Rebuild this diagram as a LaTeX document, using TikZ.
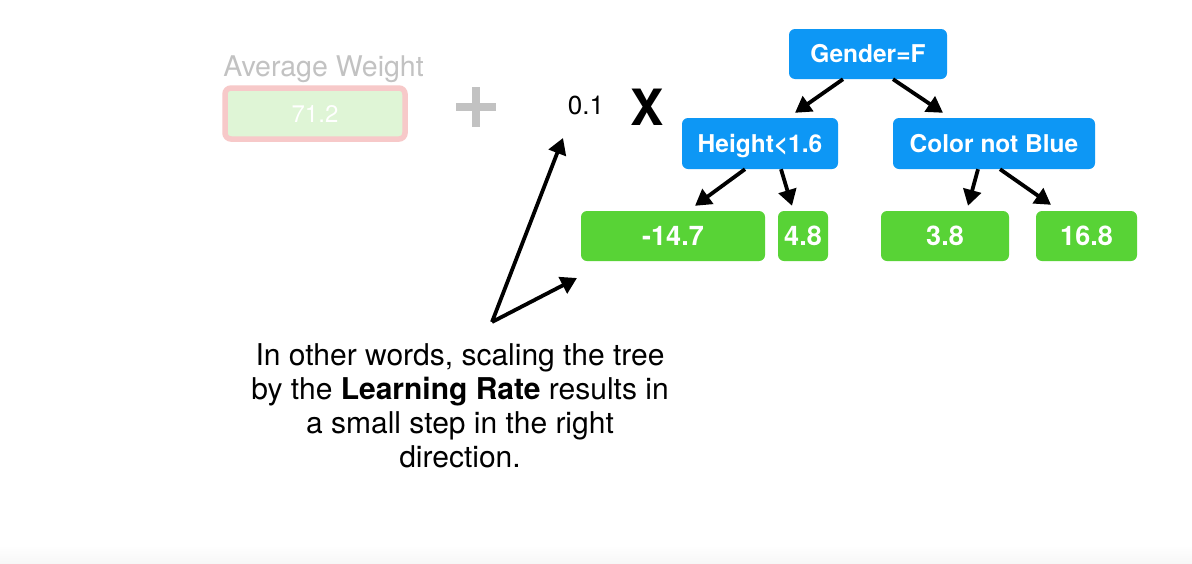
\documentclass[tikz,border=0pt]{standalone}
\usepackage{fontspec}
\setmainfont{TeX Gyre Heros}
\usetikzlibrary{arrows.meta}
\definecolor{tblue}{HTML}{0D97F5}
\definecolor{tgreen}{HTML}{58D336}
\definecolor{fadegray}{HTML}{C2C2C2}
\definecolor{fadegreen}{HTML}{DFF5D6}
\definecolor{fadepink}{HTML}{F7C9C9}
\begin{document}
\begin{tikzpicture}[x=1pt,y=-1pt,
  box/.style={rounded corners=6pt, text=white, inner sep=0pt, text depth=0pt},
  splitnode/.style={box, fill=tblue, minimum height=51pt, text height=17.6pt, font=\fontsize{24.5}{28}\selectfont\bfseries},
  leafnode/.style={box, fill=tgreen, minimum height=50pt, text height=19.5pt, font=\fontsize{27}{31}\selectfont\bfseries},
  arr/.style={line width=3.8pt, -{Triangle[length=16pt,width=18pt]}},
  plusbar/.style={fill=fadegray, draw=none}]
\useasboundingbox[fill=white] (0,0) rectangle (1192,563);
\shade[top color=white, bottom color=black!3] (0,545) rectangle (1192,563);

% faded average weight
\node[font=\fontsize{28.5}{32}\selectfont, text=fadegray, anchor=base] (avgtitle) at (323.5,76) {Average Weight};
\node[draw=fadepink, line width=5.5pt, fill=fadegreen, rounded corners=6pt, minimum width=180pt, minimum height=51pt,
      inner sep=0pt, text=white, font=\fontsize{24}{28}\selectfont, text height=17.3pt, text depth=0pt] (avg) at (315,113.5) {71.2};
\fill[plusbar] (456,103) rectangle (496,111);
\fill[plusbar] (472,87) rectangle (480,127);

% learning rate and times
\node[font=\fontsize{26}{30}\selectfont, text height=18.7pt, text depth=0pt, inner sep=0pt] (lr) at (586,105) {0.1};
\node[font=\fontsize{50}{56}\selectfont\bfseries, text height=36pt, text depth=0pt, inner sep=0pt] (times) at (647,107) {X};

% tree
\node[splitnode, minimum width=158pt, minimum height=50pt] (g) at (868,54) {Gender=F};
\node[splitnode, minimum width=156pt] (h) at (760,143.5) {Height<1.6};
\node[splitnode, minimum width=202pt] (c) at (994,143.5) {Color not Blue};
\node[leafnode, minimum width=184pt] (l1) at (673,236) {-14.7};
\node[leafnode, minimum width=50pt] (l2) at (803,236) {4.8};
\node[leafnode, minimum width=128pt] (l3) at (945,236) {3.8};
\node[leafnode, minimum width=101pt] (l4) at (1086.5,236) {16.8};

\draw[arr] ([xshift=-25pt]g.south) -- ([xshift=35pt,yshift=5pt]h.north);
\draw[arr] ([xshift=25pt]g.south) -- ([xshift=-51pt,yshift=5pt]c.north);
\draw[arr] ([xshift=-15pt]h.south) -- ([xshift=22pt,yshift=5pt]l1.north);
\draw[arr] ([xshift=21pt]h.south) -- ([xshift=-11pt,yshift=5pt]l2.north);
\draw[arr] ([xshift=-16pt]c.south) -- ([xshift=23pt,yshift=5pt]l3.north);
\draw[arr] ([xshift=6pt]c.south) -- ([xshift=-35.5pt,yshift=6pt]l4.north);

% explanation
\node[font=\fontsize{30}{34}\selectfont, align=center, anchor=north, inner sep=0pt] (note) at (460,343)
  {In other words, scaling the tree\\by the \textbf{Learning Rate} results in\\a small step in the right\\direction.};
\coordinate (pivot) at (492,322);
\coordinate (lrtip) at (563,138);
\coordinate (treetip) at (577,278);
\draw[arr] (pivot) -- (lrtip);
\draw[arr] (pivot) -- (treetip);
\end{tikzpicture}
\end{document}
